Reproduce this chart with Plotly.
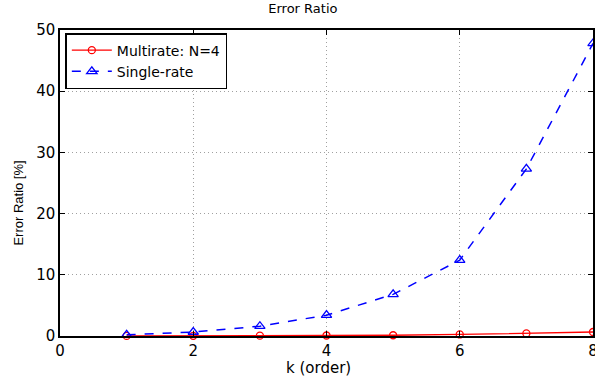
import plotly.graph_objects as go

k = [1, 2, 3, 4, 5, 6, 7, 8]
multirate = [0.02, 0.03, 0.05, 0.08, 0.12, 0.25, 0.42, 0.65]
single_rate = [0.2, 0.65, 1.6, 3.4, 6.8, 12.4, 27.3, 47.8]
x_ticks = [0, 2, 4, 6, 8]
y_ticks = [0, 10, 20, 30, 40, 50]

fig = go.Figure()
fig.add_trace(go.Scatter(
    x=k, y=multirate, mode="lines+markers", name="Multirate: N=4",
    line=dict(color="red", width=1.3),
    marker=dict(symbol="circle-open", size=7, color="red", line=dict(width=1.3)),
    cliponaxis=False,
))
fig.add_trace(go.Scatter(
    x=k, y=single_rate, mode="lines+markers", name="Single-rate",
    line=dict(color="blue", width=1.5, dash="dash"),
    marker=dict(symbol="triangle-up-open", size=9, color="blue", line=dict(width=1.3)),
    cliponaxis=False,
))

wide = "DejaVu Sans, Verdana, sans-serif"
narrow = "Liberation Sans, Arial, sans-serif"
axis_common = dict(
    showline=True, linecolor="black", linewidth=1.5, mirror="ticks",
    ticks="inside", ticklen=5, tickcolor="black",
    showgrid=True, gridcolor="#a0a0a0", griddash="1px,3px", gridwidth=1,
    zeroline=False, automargin=False, ticklabeloverflow="allow",
    tickfont=dict(family=wide, size=15, color="black"),
)
fig.update_xaxes(range=[0, 8], tickvals=x_ticks, **axis_common)
fig.update_yaxes(range=[0, 50], tickvals=y_ticks, **axis_common)

fig.update_layout(
    width=595, height=383,
    margin=dict(l=60, r=2, t=30, b=47),
    paper_bgcolor="white", plot_bgcolor="white",
    title=dict(text="Error Ratio", x=0.509, xanchor="center", y=0.99, yanchor="top",
               font=dict(family=wide, size=13, color="black")),
    legend=dict(x=0.01, y=0.99, xanchor="left", yanchor="top",
                bgcolor="white", bordercolor="black", borderwidth=1.5,
                font=dict(family=wide, size=14, color="black"),
                tracegroupgap=0, itemwidth=40, entrywidth=225),
    showlegend=True,
    annotations=[
        dict(text="k (order)", xref="paper", yref="paper", x=(318 - 60) / 533, y=(335.7 - 368) / 305.7,
             xanchor="center", yanchor="middle", showarrow=False,
             font=dict(family=wide, size=15, color="black")),
        dict(text="Error Ratio [%]", xref="paper", yref="paper", x=-0.078, y=(335.7 - 203) / 305.7,
             xanchor="center", yanchor="middle", textangle=-90, showarrow=False,
             font=dict(family=narrow, size=13, color="black")),
    ],
)

fig.write_html("out.html", config={"displayModeBar": False},
               post_script="document.body.style.margin='0';document.body.style.overflow='hidden';")
